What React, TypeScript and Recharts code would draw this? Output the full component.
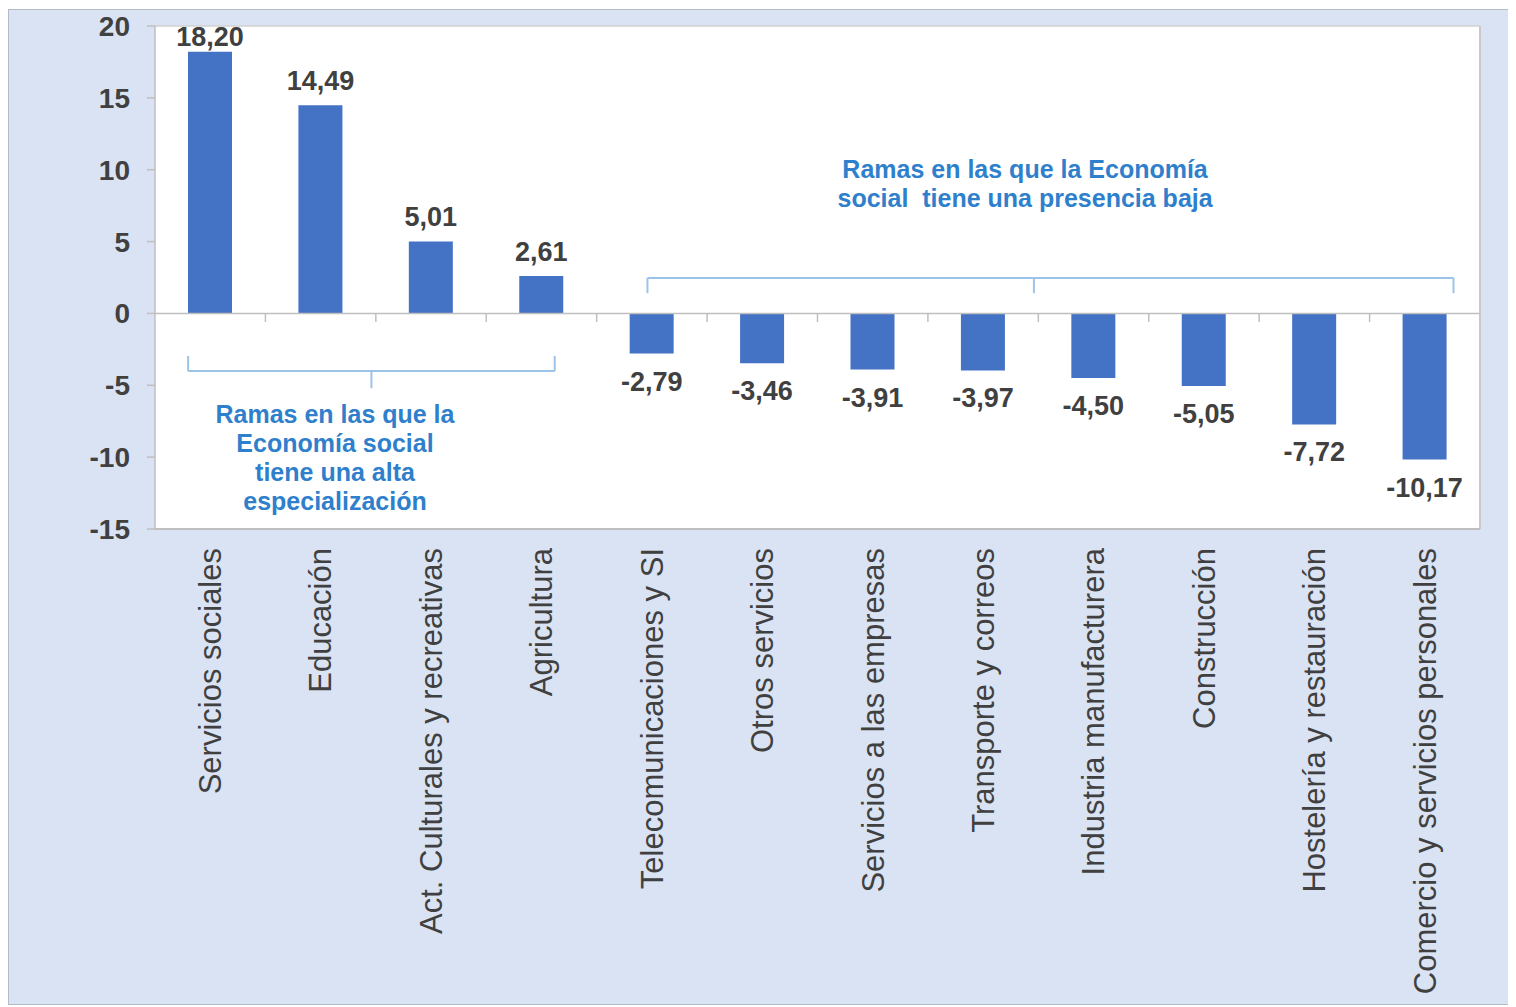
import React from "react";
import {
  BarChart,
  Bar,
  XAxis,
  YAxis,
  CartesianGrid,
  ReferenceLine,
  ReferenceDot,
  LabelList,
} from "recharts";

const categories = [
  "Servicios sociales",
  "Educación",
  "Act. Culturales y recreativas",
  "Agricultura",
  "Telecomunicaciones y SI",
  "Otros servicios",
  "Servicios a las empresas",
  "Transporte y correos",
  "Industria manufacturera",
  "Construcción",
  "Hostelería y restauración",
  "Comercio y servicios personales",
];

const values = [18.2, 14.49, 5.01, 2.61, -2.79, -3.46, -3.91, -3.97, -4.5, -5.05, -7.72, -10.17];

const yTicks = [-15, -10, -5, 0, 5, 10, 15, 20];

const highNote = ["Ramas en las que la", "Economía social", "tiene una alta", "especialización"];
const lowNote = ["Ramas en las que la Economía", "social  tiene una presencia baja"];

// pos = centre of each category band on a helper numeric axis (0..12)
const data = categories.map((name, i) => ({ name, value: values[i], pos: i + 0.5 }));

const FONT = '"Liberation Sans", Arial, Helvetica, sans-serif';
const BAR = "#4472c4";
const TXT = "#404040";
const NOTE = "#2f80cc";
const BRACKET = "#9cc3e8";
const AXIS = "#bfbfbf";

// bracket geometry in data space (numeric helper axis 0..12)
const highBracket = { x1: 0.3, x2: 3.62, xc: 1.96, tip: -2.96, line: -4.0, stem: -5.2 };
const lowBracket = { x1: 4.46, x2: 11.76, xc: 7.96, tip: 1.41, line: 2.46 };
const boundaries = categories.slice(1).map((_, i) => i + 1);

const fmt = (v: number) => v.toFixed(2).replace(".", ",");

const ValueLabel = (props: any) => {
  const { x, y, width, height, value } = props;
  const top = Math.min(y, y + height);
  const bottom = Math.max(y, y + height);
  const cx = x + width / 2;
  const ty = value >= 0 ? Math.max(top - 15, 36) : bottom + 37;
  return (
    <text
      x={cx}
      y={ty}
      textAnchor="middle"
      fill={TXT}
      fontFamily={FONT}
      fontWeight="bold"
      fontSize={27}
    >
      {fmt(value)}
    </text>
  );
};

const XTick = (props: any) => {
  const { x, y, payload } = props;
  const ty = y + 19;
  return (
    <text
      x={x}
      y={ty}
      dy="0.35em"
      transform={`rotate(-90, ${x}, ${ty})`}
      textAnchor="end"
      fill={TXT}
      fontFamily={FONT}
      fontSize={31}
    >
      {payload.value}
    </text>
  );
};

const noteContent = (lines: string[]) => (props: any) => {
  const vb = props.viewBox || {};
  const cx = (vb.x ?? 0) + (vb.width ?? 0) / 2;
  const cy = (vb.y ?? 0) + (vb.height ?? 0) / 2;
  return (
    <text
      x={cx}
      y={cy}
      textAnchor="middle"
      fill={NOTE}
      fontFamily={FONT}
      fontWeight="bold"
      fontSize={25}
      style={{ whiteSpace: "pre" }}
    >
      {lines.map((l, i) => (
        <tspan key={i} x={cx} dy={i === 0 ? "0.35em" : 29}>
          {l}
        </tspan>
      ))}
    </text>
  );
};

const seg = (x1: number, y1: number, x2: number, y2: number, key: string, color = BRACKET, w = 2) => (
  <ReferenceLine
    key={key}
    xAxisId="n"
    segment={[
      { x: x1, y: y1 },
      { x: x2, y: y2 },
    ]}
    stroke={color}
    strokeWidth={w}
    ifOverflow="visible"
  />
);

export default function App() {
  return (
    <div
      style={{
        width: 1506,
        height: 994,
        marginTop: 1,
        background: "#dae3f3",
        border: "1px solid #b4bcc8",
      }}
    >
      <BarChart
        width={1506}
        height={994}
        data={data}
        margin={{ top: 16, right: 35, bottom: 0, left: 0 }}
      >
        <CartesianGrid horizontal={false} vertical={false} fill="#ffffff" />
        <XAxis
          xAxisId="c"
          dataKey="name"
          type="category"
          height={475}
          axisLine={false}
          tickLine={false}
          tickSize={0}
          tickMargin={0}
          interval={0}
          tick={<XTick />}
        />
        <XAxis
          xAxisId="n"
          dataKey="pos"
          type="number"
          domain={[0, 12]}
          allowDataOverflow
          padding={{ left: 0, right: 0 }}
          hide
        />
        <YAxis
          type="number"
          domain={[-15, 20]}
          ticks={yTicks}
          width={146}
          interval={0}
          axisLine={{ stroke: AXIS, strokeWidth: 1.5 }}
          tickLine={{ stroke: AXIS, strokeWidth: 1.5 }}
          tickSize={8}
          tickMargin={17}
          tick={{ fill: TXT, fontFamily: FONT, fontWeight: "bold", fontSize: 28 }}
        />
        <ReferenceLine xAxisId="n" y={20} stroke="#d0d0d0" strokeWidth={1.5} />
        <ReferenceLine xAxisId="n" y={-15} stroke={AXIS} strokeWidth={2} />
        <ReferenceLine xAxisId="n" x={12} stroke="#c8c8c8" strokeWidth={2} />
        <ReferenceLine xAxisId="n" y={0} stroke={AXIS} strokeWidth={1.5} />
        {boundaries.map((b) => seg(b, 0, b, -0.6, `t${b}`, AXIS, 1.5))}
        <Bar xAxisId="c" dataKey="value" fill={BAR} barSize={44} isAnimationActive={false}>
          <LabelList dataKey="value" content={<ValueLabel />} />
        </Bar>
        {seg(highBracket.x1, highBracket.tip, highBracket.x1, highBracket.line, "h1")}
        {seg(highBracket.x1, highBracket.line, highBracket.x2, highBracket.line, "h2")}
        {seg(highBracket.x2, highBracket.line, highBracket.x2, highBracket.tip, "h3")}
        {seg(highBracket.xc, highBracket.line, highBracket.xc, highBracket.stem, "h4")}
        {seg(lowBracket.x1, lowBracket.tip, lowBracket.x1, lowBracket.line, "l1")}
        {seg(lowBracket.x1, lowBracket.line, lowBracket.x2, lowBracket.line, "l2")}
        {seg(lowBracket.x2, lowBracket.line, lowBracket.x2, lowBracket.tip, "l3")}
        {seg(lowBracket.xc, lowBracket.line, lowBracket.xc, lowBracket.tip, "l4")}
        <ReferenceDot
          xAxisId="n"
          x={1.63}
          y={-7.0}
          r={0}
          fill="none"
          stroke="none"
          label={{ content: noteContent(highNote) }}
        />
        <ReferenceDot
          xAxisId="n"
          x={7.88}
          y={10.05}
          r={0}
          fill="none"
          stroke="none"
          label={{ content: noteContent(lowNote) }}
        />
      </BarChart>
    </div>
  );
}
